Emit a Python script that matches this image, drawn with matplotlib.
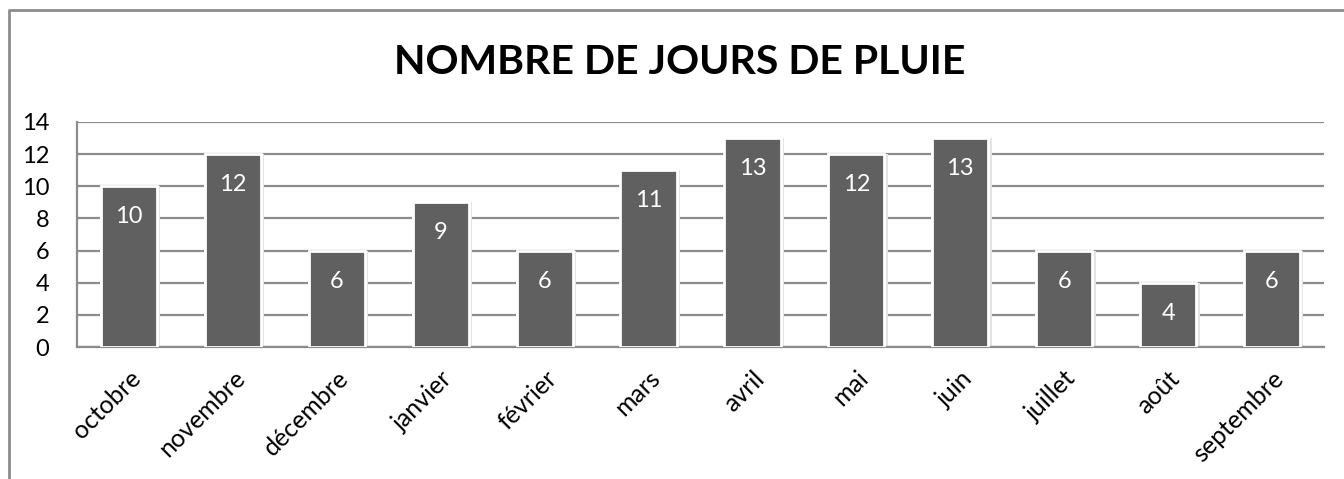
import matplotlib.pyplot as plt
from matplotlib.lines import Line2D

# données
mois = ['octobre', 'novembre', 'décembre', 'janvier', 'février', 'mars',
        'avril', 'mai', 'juin', 'juillet', 'août', 'septembre']
jours_pluie = [10, 12, 6, 9, 6, 11, 13, 12, 13, 6, 4, 6]
graduations = [0, 2, 4, 6, 8, 10, 12, 14]

plt.rcParams['font.family'] = ['Lato', 'DejaVu Sans']

W, H = 1344, 479
fig = plt.figure(figsize=(W / 100, H / 100), dpi=100)
ax = fig.add_axes([77 / W, 1 - 347 / H, (1324 - 77) / W, (347 - 122) / H])

# cadre du graphique (coupé en bas et à droite)
fig.lines.append(Line2D([9 / W, 9 / W, 1.0], [0.0, 1 - 10 / H, 1 - 10 / H],
                        transform=fig.transFigure, color='#8c8c8c', linewidth=2))

x = range(len(mois))
# ombre légère puis barres
ax.bar([xi + 0.012 for xi in x], jours_pluie, width=0.58, color='#e4e4e4',
       linewidth=0, zorder=2)
ax.bar(x, jours_pluie, width=0.54, color='#606060', edgecolor='white',
       linewidth=2, zorder=3)

for xi, v in zip(x, jours_pluie):
    ax.annotate(str(v), (xi, v), xytext=(0, -22), textcoords='offset points',
                ha='center', va='center', color='white', fontsize=17, zorder=4)

ax.set_xlim(-0.5, len(mois) - 0.5)
ax.set_ylim(0, 14)
ax.set_yticks(graduations)
ax.yaxis.grid(True, color='#8c8c8c', linewidth=1.6, zorder=0)
ax.set_axisbelow(True)
ax.tick_params(axis='both', length=0, colors='black')
ax.tick_params(axis='y', pad=20, labelsize=17)
ax.set_xticks(list(x))
ax.set_xticklabels(mois, rotation=45, ha='right', rotation_mode='anchor', fontsize=18)
ax.tick_params(axis='x', pad=14)

for s in ['top', 'right']:
    ax.spines[s].set_visible(False)
for s in ['left', 'bottom']:
    ax.spines[s].set_color('#8c8c8c')
    ax.spines[s].set_linewidth(1.6)

fig.text(0.506, 1 - 62 / H, 'NOMBRE DE JOURS DE PLUIE', ha='center', va='center',
         fontsize=29.5, fontweight='bold')

fig.savefig('out.png', dpi=100)
